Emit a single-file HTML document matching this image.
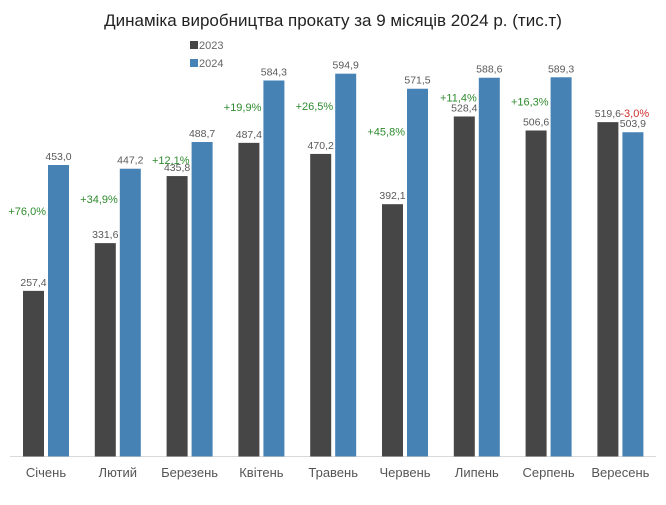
<!DOCTYPE html>
<html><head><meta charset="utf-8"><style>
body{margin:0;background:#fff;font-family:"Liberation Sans",sans-serif}
svg text{font-family:"Liberation Sans",sans-serif}
</style></head><body>
<svg width="666" height="500" xmlns="http://www.w3.org/2000/svg">
<rect width="666" height="500" fill="#fff"/>
<text x="333" y="26" text-anchor="middle" font-size="17" fill="#222">Динаміка виробництва прокату за 9 місяців 2024 р. (тис.т)</text>
<g>
<rect x="190" y="41" width="8" height="8" fill="#464646"/>
<text x="199" y="49" font-size="11" fill="#666">2023</text>
<rect x="190" y="59" width="8" height="8" fill="#4682b4"/>
<text x="199" y="67" font-size="11" fill="#666">2024</text>
</g>
<line x1="10" y1="456.5" x2="656" y2="456.5" stroke="#d9d9d9"/>
<g id="bars"></g>
</svg>
<script>
const categories=["Січень","Лютий","Березень","Квітень","Травень","Червень","Липень","Серпень","Вересень"];
const values2023=[257.4,331.6,435.8,487.4,470.2,392.1,528.4,506.6,519.6];
const values2024=[453.0,447.2,488.7,584.3,594.9,571.5,588.6,589.3,503.9];
const base=456.5, k=0.6435, step=71.8, x0=23, bw=21;
const y=v=>base-v*k;
const fmt=v=>v.toFixed(1).replace('.',',');
const g=document.getElementById('bars');
const NS="http://www.w3.org/2000/svg";
function mk(tag,attrs,txt){const e=document.createElementNS(NS,tag);for(const a in attrs)e.setAttribute(a,attrs[a]);if(txt!==undefined)e.textContent=txt;g.appendChild(e);return e;}
categories.forEach((c,i)=>{
  const xa=x0+step*i, xb=xa+25;
  const a=values2023[i], b=values2024[i];
  let e=mk('rect',{x:xa,y:y(a),width:bw,height:a*k,fill:'#464646'});
  
  
  e=mk('rect',{x:xb,y:y(b),width:bw,height:b*k,fill:'#4682b4'});
  
  
  e=mk('text',{x:xa+bw/2,y:y(a)-5,'text-anchor':'middle','font-size':'10.5',fill:'#595959'},fmt(a));
  
  
  e=mk('text',{x:xb+bw/2,y:y(b)-5,'text-anchor':'middle','font-size':'10.5',fill:'#595959'},fmt(b));
  
  
  const p=(b/a-1)*100;
  const ps=(p>=0?'+':'')+p.toFixed(1).replace('.',',')+'%';
  if(p>=0){
    const ly=y(b)+0.3*(y(a)-y(b))+8;
    e=mk('text',{x:xb-2,y:ly+4,'text-anchor':'end','font-size':'11',fill:'#2e8b2e'},ps);
  } else {
    e=mk('text',{x:xa+bw+2,y:y(a)-5,'text-anchor':'start','font-size':'11',fill:'#d03030'},ps);
  }
  
  
  e=mk('text',{x:xa+23,y:477,'text-anchor':'middle','font-size':'13',fill:'#555'},c);
  
  
});
</script>
</body></html>
